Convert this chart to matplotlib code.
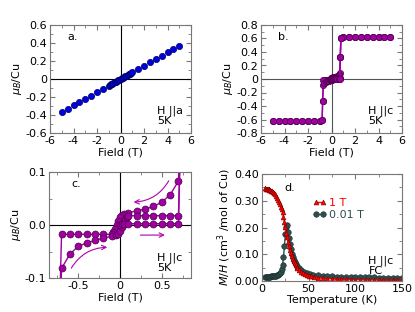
import numpy as np
import matplotlib
matplotlib.use("Agg")
import matplotlib.pyplot as plt
from matplotlib.ticker import FuncFormatter, MultipleLocator

plt.rcParams['font.family'] = ['DejaVu Sans']
plt.rcParams['font.size'] = 8
plt.rcParams['axes.unicode_minus'] = False

# ---- panel a : H || a, 5 K ----
field_a = [-5, -4.5, -4, -3.5, -3, -2.5, -2, -1.5, -1, -0.9, -0.8, -0.7, -0.6, -0.5,
           -0.4, -0.3, -0.2, -0.1, 0, 0.1, 0.2, 0.3, 0.4, 0.5, 0.6, 0.7, 0.8, 0.9,
           1, 1.5, 2, 2.5, 3, 3.5, 4, 4.5, 5]
moment_a = [-0.362, -0.328, -0.293, -0.257, -0.221, -0.184, -0.147, -0.110, -0.073,
            -0.066, -0.058, -0.051, -0.044, -0.036, -0.029, -0.022, -0.015, -0.007,
            0.0, 0.007, 0.015, 0.022, 0.030, 0.037, 0.044, 0.052, 0.059, 0.067,
            0.074, 0.111, 0.148, 0.185, 0.222, 0.259, 0.296, 0.333, 0.370]

# ---- panels b/c : H || c, 5 K hysteresis ----
dec_field = [5, 4.5, 4, 3.5, 3, 2.5, 2, 1.5, 1, 0.8, 0.75, 0.7, 0.6, 0.5, 0.4, 0.3,
             0.2, 0.1, 0.05, 0.02, 0, -0.02, -0.04, -0.06, -0.08, -0.1, -0.2, -0.3,
             -0.4, -0.5, -0.6, -0.7, -0.75, -0.8, -1, -1.5, -2, -2.5, -3, -3.5, -4,
             -4.5, -5]
dec_moment = [0.62, 0.62, 0.62, 0.62, 0.62, 0.62, 0.62, 0.62, 0.62, 0.61, 0.33, 0.083,
              0.057, 0.043, 0.035, 0.030, 0.027, 0.023, 0.021, 0.019, 0.015, 0.008,
              0.0, -0.008, -0.013, -0.0176, -0.0176, -0.0176, -0.0176, -0.0176,
              -0.0176, -0.0176, -0.32, -0.61, -0.62, -0.62, -0.62, -0.62, -0.62,
              -0.62, -0.62, -0.62, -0.62]
inc_field = [-5, -4.5, -4, -3.5, -3, -2.5, -2, -1.5, -1, -0.8, -0.75, -0.7, -0.6, -0.5,
             -0.4, -0.3, -0.2, -0.1, -0.05, -0.02, 0, 0.02, 0.04, 0.06, 0.08, 0.1, 0.2,
             0.3, 0.4, 0.5, 0.6, 0.7, 0.75, 0.8, 1, 1.5, 2, 2.5, 3, 3.5, 4, 4.5, 5]
inc_moment = [-0.62, -0.62, -0.62, -0.62, -0.62, -0.62, -0.62, -0.62, -0.62, -0.61,
              -0.33, -0.082, -0.055, -0.040, -0.034, -0.029, -0.025, -0.021, -0.019,
              -0.017, -0.012, -0.004, 0.004, 0.012, 0.016, 0.0176, 0.0176, 0.0176,
              0.0176, 0.0176, 0.0176, 0.0176, 0.33, 0.61, 0.62, 0.62, 0.62, 0.62,
              0.62, 0.62, 0.62, 0.62, 0.62]
virgin_field = [0, 0.02, 0.05, 0.1, 0.2, 0.3, 0.4, 0.5, 0.6, 0.7, 0.75, 0.8]
virgin_moment = [0.0, 0.001, 0.002, 0.0025, 0.0025, 0.0025, 0.0025, 0.0025, 0.0025,
                 0.0025, 0.33, 0.61]

# ---- panel d : M/H vs T, H || c, FC ----
temp_1T = [3, 4, 5, 6, 7, 8, 9, 10, 11, 12, 13, 14, 15, 16, 17, 18, 19, 20, 21, 22,
           23, 24, 25, 26, 27, 28, 29, 30, 31, 32, 33, 34, 35, 36, 37, 38, 40, 42, 44,
           46, 48, 50, 53, 56, 60, 65, 70, 75, 80, 85, 90, 95, 100, 105, 110, 115,
           120, 125, 130, 135, 140, 145, 150]
mh_1T = [0.346, 0.345, 0.345, 0.344, 0.343, 0.342, 0.340, 0.338, 0.336, 0.333, 0.329,
         0.324, 0.318, 0.311, 0.303, 0.295, 0.287, 0.278, 0.268, 0.257, 0.240, 0.222,
         0.201, 0.181, 0.163, 0.146, 0.130, 0.116, 0.103, 0.092, 0.082, 0.073, 0.066,
         0.059, 0.054, 0.049, 0.041, 0.035, 0.030, 0.026, 0.023, 0.020, 0.017, 0.014,
         0.012, 0.010, 0.009, 0.008, 0.007, 0.006, 0.006, 0.005, 0.005, 0.005, 0.004,
         0.004, 0.004, 0.004, 0.004, 0.003, 0.003, 0.003, 0.003]
temp_001T = [3, 4, 5, 6, 7, 8, 9, 10, 11, 12, 13, 14, 15, 16, 17, 18, 19, 20, 21, 22,
             23, 24, 25, 26, 27, 28, 29, 30, 31, 32, 33, 34, 35, 36, 38, 40, 42, 45,
             48, 51, 55, 60, 65, 70, 75, 80, 85, 90, 95, 100, 105, 110, 115, 120, 125,
             130, 135, 140, 145, 150]
mh_001T = [0.015, 0.015, 0.015, 0.015, 0.016, 0.016, 0.016, 0.017, 0.017, 0.018, 0.018,
           0.019, 0.020, 0.021, 0.023, 0.025, 0.029, 0.035, 0.045, 0.060, 0.089, 0.130,
           0.175, 0.203, 0.208, 0.185, 0.160, 0.138, 0.118, 0.100, 0.089, 0.080, 0.072,
           0.065, 0.055, 0.047, 0.041, 0.035, 0.030, 0.027, 0.024, 0.021, 0.019, 0.018,
           0.017, 0.016, 0.016, 0.015, 0.015, 0.015, 0.014, 0.014, 0.014, 0.014, 0.013,
           0.013, 0.013, 0.013, 0.013, 0.013]

W, H = 415, 312
fig = plt.figure(figsize=(W / 100, H / 100), dpi=100)


def box(left, right, top, bottom):
  return [left / W, 1 - bottom / H, (right - left) / W, (bottom - top) / H]


def style(ax):
  for s in ax.spines.values():
    s.set_color('#777777')
    s.set_linewidth(0.8)
  ax.tick_params(direction='in', top=True, right=True, which='both',
                 color='#777777', labelsize=8, pad=2)
  ax.tick_params(which='major', length=3.5)
  ax.tick_params(which='minor', length=2)


zero_fmt = FuncFormatter(lambda v, p: '0' if abs(v) < 1e-9 else f'{v:.1f}')
purple = '#a000a0'
purple_edge = '#4a004a'

# a.
ax = fig.add_axes(box(50, 191, 25, 133))
style(ax)
ax.axhline(0, color='black', lw=0.8)
ax.axvline(0, color='black', lw=0.8)
ax.plot(field_a, moment_a, 'o', color='#0000dd', mec='#000066', mew=0.5, ms=4.5)
ax.set_xlim(-6, 6)
ax.set_ylim(-0.6, 0.6)
ax.xaxis.set_major_locator(MultipleLocator(2))
ax.xaxis.set_minor_locator(MultipleLocator(1))
ax.yaxis.set_major_locator(MultipleLocator(0.2))
ax.yaxis.set_minor_locator(MultipleLocator(0.1))
ax.yaxis.set_major_formatter(zero_fmt)
ax.xaxis.set_major_formatter(FuncFormatter(lambda v, p: f'{v:.0f}'))
ax.set_xlabel('Field (T)', labelpad=1)
ax.set_ylabel(r'$\mu_B$/Cu', labelpad=1)
ax.text(0.12, 0.86, 'a.', transform=ax.transAxes)
ax.text(0.76, 0.08, 'H ||a\n5K', transform=ax.transAxes, linespacing=1.0)

# b.
ax = fig.add_axes(box(261, 402, 25, 133))
style(ax)
ax.axhline(0, color='#555555', lw=0.8)
ax.axvline(0, color='#555555', lw=0.8)
for fx, my in [(dec_field, dec_moment), (inc_field, inc_moment),
               (virgin_field, virgin_moment)]:
  ax.plot(fx, my, '-o', color=purple, mfc=purple, mec=purple_edge, mew=0.5,
          ms=4.5, lw=1)
ax.set_xlim(-6, 6)
ax.set_ylim(-0.8, 0.8)
ax.xaxis.set_major_locator(MultipleLocator(2))
ax.xaxis.set_minor_locator(MultipleLocator(1))
ax.yaxis.set_major_locator(MultipleLocator(0.2))
ax.yaxis.set_minor_locator(MultipleLocator(0.1))
ax.yaxis.set_major_formatter(zero_fmt)
ax.xaxis.set_major_formatter(FuncFormatter(lambda v, p: f'{v:.0f}'))
ax.set_xlabel('Field (T)', labelpad=1)
ax.set_ylabel(r'$\mu_B$/Cu', labelpad=1)
ax.text(0.12, 0.86, 'b.', transform=ax.transAxes)
ax.text(0.76, 0.08, 'H ||c\n5K', transform=ax.transAxes, linespacing=1.0)

# c.
ax = fig.add_axes(box(49, 191, 172, 278))
style(ax)
ax.axhline(0, color='black', lw=0.8)
ax.axvline(0, color='black', lw=0.8)
for fx, my in [(dec_field, dec_moment), (inc_field, inc_moment),
               (virgin_field, virgin_moment)]:
  ax.plot(fx, my, '-o', color=purple, mfc=purple, mec=purple_edge, mew=0.5,
          ms=5, lw=1)
ax.set_xlim(-0.85, 0.85)
ax.set_ylim(-0.1, 0.1)
ax.set_xticks([-0.5, 0, 0.5])
ax.set_xticklabels(['-0.5', '0', '0.5'])
ax.set_yticks([-0.1, 0.0, 0.1])
ax.set_yticklabels(['-0.1', '0.0', '0.1'])
ax.xaxis.set_minor_locator(MultipleLocator(0.25))
ax.yaxis.set_minor_locator(MultipleLocator(0.05))
ax.set_xlabel('Field (T)', labelpad=1)
ax.set_ylabel(r'$\mu_B$/Cu', labelpad=1)
ax.text(0.16, 0.86, 'c.', transform=ax.transAxes)
ax.text(0.76, 0.07, 'H ||c\n5K', transform=ax.transAxes, linespacing=1.0)
arrow = dict(arrowstyle='->', color='#b000b0', lw=0.8)
ax.annotate('', xy=(0.13, 0.043), xytext=(0.6, 0.088),
            arrowprops=dict(arrow, connectionstyle='arc3,rad=-0.3'))
ax.annotate('', xy=(-0.12, -0.042), xytext=(-0.6, -0.086),
            arrowprops=dict(arrow, connectionstyle='arc3,rad=-0.3'))
ax.annotate('', xy=(0.57, -0.019), xytext=(0.21, -0.019), arrowprops=arrow)

# d.
ax = fig.add_axes(box(262, 402, 174, 281))
style(ax)
ax.plot(temp_001T, mh_001T, '-o', color='#2f4f4f', mec='#1a2e2e', mew=0.4,
        ms=4, lw=1, label='0.01 T')
ax.plot(temp_1T, mh_1T, '-^', color='red', mec='#770000', mew=0.4,
        ms=3.5, lw=1, label='1 T')
ax.set_xlim(0, 150)
ax.set_ylim(0, 0.4)
ax.xaxis.set_major_locator(MultipleLocator(50))
ax.xaxis.set_minor_locator(MultipleLocator(25))
ax.yaxis.set_major_locator(MultipleLocator(0.1))
ax.yaxis.set_minor_locator(MultipleLocator(0.05))
ax.yaxis.set_major_formatter(FuncFormatter(lambda v, p: f'{v:.2f}'))
ax.set_xlabel('Temperature (K)', labelpad=1)
ax.set_ylabel(r'$M/H$ (cm$^3$ /mol of Cu)', labelpad=1)
handles, labels = ax.get_legend_handles_labels()
ax.legend(handles[::-1], labels[::-1], loc='upper left', bbox_to_anchor=(0.33, 0.82),
          frameon=False, fontsize=8, numpoints=2, handlelength=1.2,
          handletextpad=0.3, labelspacing=0.2, borderaxespad=0,
          labelcolor='linecolor')
ax.text(0.16, 0.84, 'd.', transform=ax.transAxes)
ax.text(0.76, 0.07, 'H ||c\nFC', transform=ax.transAxes, linespacing=1.0)

fig.savefig('out.png', dpi=100)
